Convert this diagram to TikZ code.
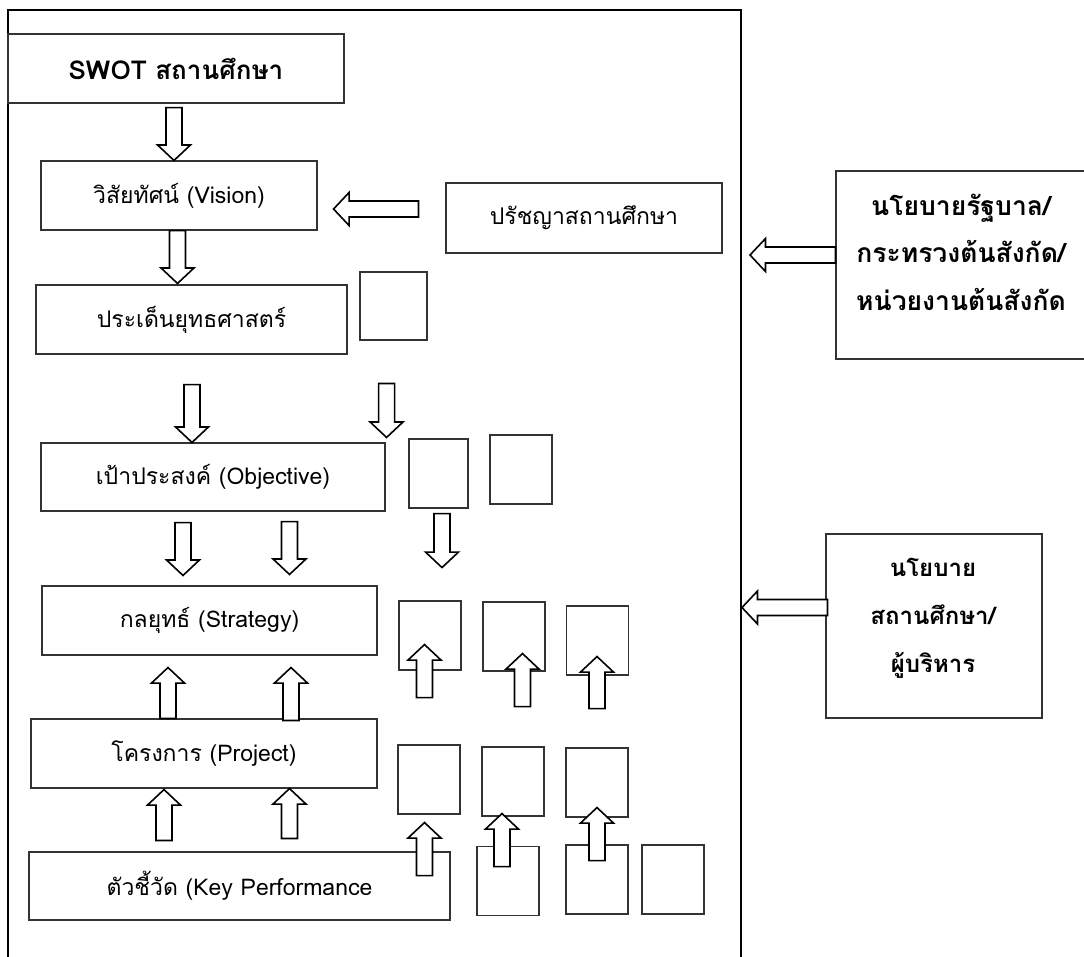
\documentclass[tikz,border=0pt]{standalone}
\usepackage{fontspec}
\setmainfont{Loma}[Script=Thai]
\usetikzlibrary{calc}

% hollow block arrow from tail #1 to tip #2
\newcommand{\fatarrow}[2]{%
  \coordinate (fa-t) at (#1);
  \coordinate (fa-h) at (#2);
  \coordinate (fa-b) at ($(fa-h)!15.5pt!(fa-t)$);
  \draw[fat] ($(fa-t)!8pt!90:(fa-h)$) -- ($(fa-b)!8pt!-90:(fa-t)$)
    -- ($(fa-b)!16.5pt!-90:(fa-t)$) -- (fa-h) -- ($(fa-b)!16.5pt!90:(fa-t)$)
    -- ($(fa-b)!8pt!90:(fa-t)$) -- ($(fa-t)!8pt!-90:(fa-h)$) -- cycle;}

\begin{document}
\begin{tikzpicture}[x=1pt, y=-1pt,
  box/.style={draw=black!80, line width=1.1pt, inner sep=0pt, fill=white,
              font=\fontsize{23}{26}\selectfont},
  sq/.style={draw=black!80, line width=1.1pt, inner sep=0pt,
             minimum width=62, minimum height=69},
  boldtxt/.style={align=center, font=\bfseries\fontsize{24}{48}\selectfont},
  fat/.style={draw=black, line width=1.6pt, fill=white, line join=miter},
  frame/.style={draw=black, line width=2.8pt}
]
  \useasboundingbox[fill=white] (0,0) rectangle (1084,956);
  \clip (0,0) rectangle (1084,956);

  % outer frame
  \coordinate (fbl) at (8,970);
  \coordinate (ftl) at (8,10);
  \coordinate (ftr) at (741,10);
  \coordinate (fbr) at (741,970);
  \draw[frame] (fbl) -- (ftl) -- (ftr) -- (fbr);

  % main column
  \node[box, minimum width=336, minimum height=69, font=\bfseries\fontsize{26}{29}\selectfont]
    (swot) at (176,68.5) {SWOT สถานศึกษา};
  \node[box, minimum width=276, minimum height=69] (vision) at (179,195.5) {วิสัยทัศน์ (Vision)};
  \node[box, minimum width=276, minimum height=70] (phil) at (584,218) {ปรัชญาสถานศึกษา};
  \node[box, minimum width=311, minimum height=69] (issues) at (191.5,319.5) {ประเด็นยุทธศาสตร์};
  \node[box, minimum width=344, minimum height=68] (obj) at (213,477) {เป้าประสงค์ (Objective)};
  \node[box, minimum width=335, minimum height=69] (strat) at (209.5,620.5) {กลยุทธ์ (Strategy)};
  \node[box, minimum width=346, minimum height=69] (proj) at (204,753.5) {โครงการ (Project)};
  \node[box, minimum width=421, minimum height=68] (kpi) at (239.5,886) {ตัวชี้วัด (Key Performance};

  % empty squares
  \node[sq, minimum width=67, minimum height=68] (s1) at (393.5,306) {};
  \node[sq, minimum width=59] (s2) at (438.5,473.5) {};
  \node[sq] (s3) at (521,469.5) {};
  \node[sq] (sqA) at (430,635.5) {};
  \node[sq] (sqB) at (514,636.5) {};
  \node[sq] (sqC) at (597.5,640.5) {};
  \node[sq] (sqD) at (429,779.5) {};
  \node[sq] (sqE) at (513,781.5) {};
  \node[sq] (sqF) at (597,782.5) {};
  \node[sq] (sqG) at (508,881) {};
  \node[sq] (sqH) at (597,879.5) {};
  \node[sq] (sqI) at (673,879.5) {};

  % outside policy boxes
  \node[box, minimum width=254, minimum height=188] (gov) at (963,265) {};
  \node[boldtxt, font=\bfseries\fontsize{26.5}{47.5}\selectfont]
    at ($(gov.center)+(-2,-13)$) {นโยบายรัฐบาล/\\กระทรวงต้นสังกัด/\\หน่วยงานต้นสังกัด};
  \node[box, minimum width=216, minimum height=184] (school) at (934,626) {};
  \node[boldtxt] at ($(school.center)+(-1,-8)$) {นโยบาย\\สถานศึกษา/\\ผู้บริหาร};

  % Arrows
  \fatarrow{$(swot.south)+(-2,4)$}{$(vision.north)+(-5,0)$}
  \fatarrow{$(phil.west)+(-27,-9)$}{$(vision.east)+(16,13.5)$}
  \fatarrow{$(vision.south)+(-1.5,0)$}{$(issues.north)+(-14,-1)$}
  \fatarrow{$(issues.south)+(0.5,30)$}{$(obj.north)+(-21,0)$}
  \fatarrow{$(obj.north east)+(1,-59)$}{$(obj.north east)+(1,-5)$}
  \fatarrow{$(obj.south)+(-30,11)$}{$(strat.north)+(-26.5,-10)$}
  \fatarrow{$(obj.south)+(76.5,10)$}{$(strat.north)+(80,-11)$}
  \fatarrow{$(s2.south)+(3.5,5)$}{$(s2.south)+(3.5,59)$}
  \fatarrow{$(proj.north)+(-36,0)$}{$(strat.south)+(-41.5,12)$}
  \fatarrow{$(proj.north)+(87,2)$}{$(strat.south)+(81.5,12)$}
  \fatarrow{$(kpi.north)+(-75.5,-11)$}{$(proj.south)+(-40,1)$}
  \fatarrow{$(kpi.north)+(50,-13)$}{$(proj.south)+(85.5,0)$}
  \fatarrow{$(sqA.south)+(-5.5,27)$}{$(sqA.south)+(-5.5,-26)$}
  \fatarrow{$(sqB.south)+(8.5,35)$}{$(sqB.south)+(8.5,-18)$}
  \fatarrow{$(sqC.south)+(-0.5,33)$}{$(sqC.south)+(-0.5,-19)$}
  \fatarrow{$(sqD.south)+(-4.5,61)$}{$(sqD.south)+(-4.5,8)$}
  \fatarrow{$(sqE.south)+(-11,50)$}{$(sqE.south)+(-11,-3)$}
  \fatarrow{$(sqF.south)+(0,43)$}{$(sqF.south)+(0,-10)$}
  \fatarrow{$(gov.west)+(0,-10)$}{$(gov.west -| ftr)+(9,-10)$}
  \fatarrow{$(school.west)+(2,-18.5)$}{$(school.west -| ftr)+(1,-18.5)$}
\end{tikzpicture}
\end{document}
